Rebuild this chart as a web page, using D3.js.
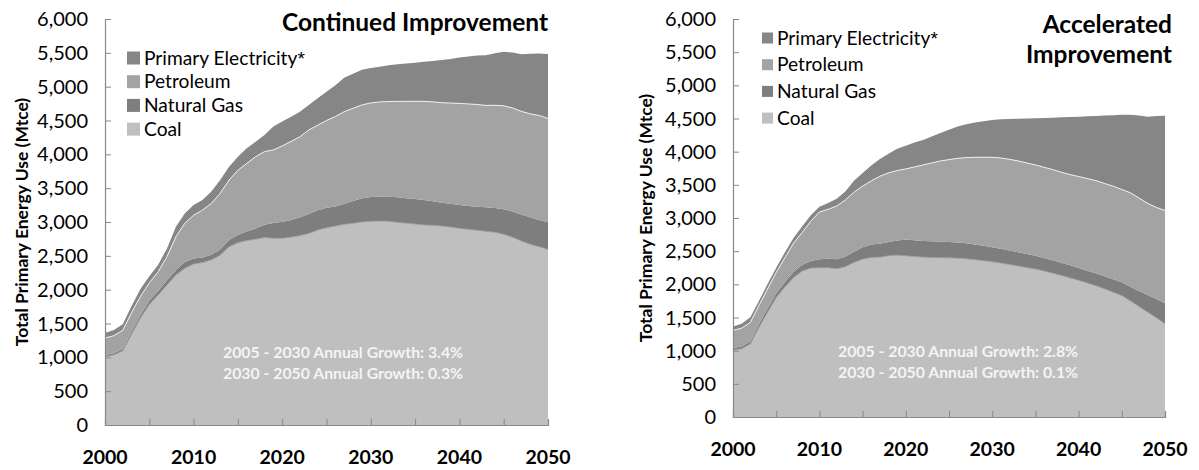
<!DOCTYPE html>
<html><head><meta charset="utf-8">
<script src="https://cdn.jsdelivr.net/npm/d3@7"></script>
<style>body{margin:0;background:#fff} svg{display:block}</style>
</head><body>
<svg id="c" width="1199" height="470"></svg>
<script>
const years = [2000,2001,2002,2003,2004,2005,2006,2007,2008,2009,2010,2011,2012,2013,2014,2015,2016,2017,2018,2019,2020,2021,2022,2023,2024,2025,2026,2027,2028,2029,2030,2031,2032,2033,2034,2035,2036,2037,2038,2039,2040,2041,2042,2043,2044,2045,2046,2047,2048,2049,2050];
const seriesNames = ["Primary Electricity*","Petroleum","Natural Gas","Coal"];
const yTicks = [0,500,1000,1500,2000,2500,3000,3500,4000,4500,5000,5500,6000];
const xTickLabels = [2000,2010,2020,2030,2040,2050];
const xMinorTicks = [2005,2010,2015,2020,2025,2030,2035,2040,2045,2050];

// Continued Improvement (Mtce)
const coalCont = [1010,1035,1095,1340,1580,1780,1920,2070,2215,2315,2380,2400,2440,2510,2635,2695,2725,2745,2770,2760,2760,2775,2800,2830,2880,2915,2940,2965,2980,3000,3010,3015,3010,2995,2982,2970,2957,2950,2941,2925,2905,2893,2878,2862,2848,2820,2775,2720,2670,2635,2595];
const gasCont = [25,25,30,40,45,55,60,70,75,95,80,75,75,85,100,115,135,160,190,225,245,255,270,290,295,295,290,305,330,350,360,360,365,370,370,370,369,355,345,345,345,344,347,357,360,370,380,390,400,395,400];
const petCont = [250,260,275,280,275,265,285,350,490,570,640,700,760,830,885,955,1005,1060,1080,1080,1120,1160,1190,1240,1255,1290,1330,1360,1370,1380,1390,1400,1405,1418,1431,1443,1457,1470,1477,1488,1502,1508,1512,1504,1517,1528,1530,1525,1528,1545,1535];
const elecCont = [75,85,90,100,110,100,105,120,150,145,150,150,175,195,195,200,225,220,245,345,360,365,370,370,400,425,460,500,510,520,515,520,535,547,560,572,585,605,631,652,678,700,723,743,770,797,820,845,887,917,953];

// Accelerated Improvement (Mtce)
const coalAcc = [1010,1030,1100,1350,1580,1800,1960,2100,2200,2245,2250,2250,2235,2265,2330,2380,2405,2410,2430,2440,2430,2420,2410,2405,2402,2400,2395,2385,2372,2357,2340,2320,2298,2275,2252,2230,2200,2168,2135,2098,2060,2020,1978,1932,1882,1830,1750,1665,1580,1495,1405];
const gasAcc = [30,32,40,50,55,60,70,85,95,105,130,135,145,150,160,180,195,202,210,220,245,245,245,243,242,240,237,233,229,224,220,216,212,208,204,200,197,194,191,188,185,186,188,191,195,200,215,235,260,285,310];
const petAcc = [265,278,285,280,295,320,370,435,485,600,710,745,800,855,900,920,960,1018,1040,1055,1065,1105,1145,1182,1216,1240,1268,1292,1314,1335,1355,1369,1375,1377,1374,1370,1368,1368,1364,1369,1380,1389,1398,1397,1403,1400,1415,1400,1380,1380,1397];
const elecAcc = [60,65,80,70,75,70,80,80,90,90,80,95,110,130,170,200,230,260,290,330,350,370,375,400,420,450,480,505,525,544,563,585,608,635,670,704,743,782,828,868,903,938,974,1025,1070,1126,1178,1245,1308,1378,1431];

const FONT = "Lato, 'Open Sans', sans-serif";
const svg = d3.select("#c");
const defs = svg.append("defs");

function pattern(id, base, dot) {
  const p = defs.append("pattern").attr("id", id).attr("patternUnits","userSpaceOnUse")
    .attr("width",2).attr("height",2);
  p.append("rect").attr("width",2).attr("height",2).attr("fill",base);
  p.append("rect").attr("width",1).attr("height",1).attr("fill",dot);
  p.append("rect").attr("x",1).attr("y",1).attr("width",1).attr("height",1).attr("fill",dot);
}
pattern("pElec", "#8c8c8c", "#808080");
pattern("pPet", "#a7a7a7", "#9f9f9f");
pattern("pGas", "#828282", "#7a7a7a");

const fills = {"Primary Electricity*":"url(#pElec)","Petroleum":"url(#pPet)","Natural Gas":"url(#pGas)","Coal":"#bfbfbf"};

function drawChart(cfg) {
  const g = svg.append("g");
  const x = d3.scaleLinear().domain([2000,2050]).range([cfg.x0, cfg.x1]);
  const y = d3.scaleLinear().domain([0,6000]).range([cfg.y0, cfg.y1]);
  const rows = years.map((yr,i) => ({year:yr, "Coal":cfg.coal[i], "Natural Gas":cfg.gas[i], "Petroleum":cfg.pet[i], "Primary Electricity*":cfg.elec[i]}));
  const stack = d3.stack().keys(["Coal","Natural Gas","Petroleum","Primary Electricity*"])(rows);
  const area = d3.area().x(d => x(d.data.year)).y0(d => y(d[0])).y1(d => y(d[1]));
  g.selectAll("path.a").data(stack).join("path").attr("class","a")
    .attr("d", area).attr("fill", d => fills[d.key]);
  const line = d3.line().x(d => x(d.data.year)).y(d => y(d[1]));
  g.append("path").attr("d", line(stack[2])).attr("fill","none").attr("stroke","#efefef").attr("stroke-width",1);
  g.append("path").attr("d", line(stack[0])).attr("fill","none").attr("stroke","#9a9a9a").attr("stroke-width",0.8);

  const yAxis = d3.axisRight(y).tickValues(yTicks).tickSize(6).tickFormat("");
  const ya = g.append("g").attr("transform",`translate(${cfg.x0},0)`).call(yAxis);
  const xAxis = d3.axisTop(x).tickValues(xMinorTicks).tickSize(6).tickFormat("");
  const xa = g.append("g").attr("transform",`translate(0,${cfg.y0})`).call(xAxis);
  [ya, xa].forEach(a => { a.select(".domain").attr("stroke","#888").attr("stroke-width",1.2);
    a.selectAll(".tick line").attr("stroke","#888"); });

  g.selectAll("text.yl").data(yTicks).join("text").attr("class","yl")
    .attr("x", cfg.x0 - 17).attr("y", d => y(d)).attr("dy","0.35em")
    .attr("text-anchor","end").attr("font-family",FONT).attr("font-size",20).attr("fill","#000")
    .text(d => d3.format(",")(d));
  g.selectAll("text.xl").data(xTickLabels).join("text").attr("class","xl")
    .attr("x", d => x(d)).attr("y", cfg.xLabelY).attr("dy","0.35em")
    .attr("text-anchor","middle").attr("font-family",FONT).attr("font-weight","bold").attr("font-size",19.5)
    .text(d => d);

  g.append("text").attr("transform",`translate(${cfg.titleX},${(cfg.y0+cfg.y1)/2}) rotate(-90)`)
    .attr("text-anchor","middle").attr("dy","0.35em").attr("font-family",FONT).attr("font-weight","bold")
    .attr("font-size",17.5).text("Total Primary Energy Use (Mtce)");

  const t = g.append("text").attr("text-anchor","end").attr("font-family",FONT).attr("font-weight","bold")
    .attr("font-size",24.5);
  cfg.title.forEach((s,i) => t.append("tspan").attr("x", cfg.titleRight).attr("y", cfg.titleY + i*30).attr("dy","0.35em").text(s));

  const lg = g.selectAll("g.lg").data(seriesNames).join("g").attr("class","lg")
    .attr("transform",(d,i) => `translate(${cfg.legX},${cfg.legY + i*cfg.legStep})`);
  lg.append("rect").attr("x",0).attr("y",-cfg.sw/2).attr("width",cfg.sw).attr("height",cfg.sw).attr("fill", d => fills[d]);
  const lt = lg.append("text").attr("x",cfg.sw+4).attr("dy","0.35em").attr("font-family",FONT).attr("font-size",19.2).attr("fill","#000");
  lt.append("tspan").text(d => d.replace("*",""));
  lt.filter(d => d.endsWith("*")).append("tspan").attr("font-family","'Liberation Sans', sans-serif").attr("fill","#000").text("*");

  cfg.notes.forEach((s,i) => g.append("text").attr("x",cfg.noteX).attr("y",cfg.noteY + i*21).attr("dy","0.35em")
    .attr("font-family",FONT).attr("font-weight","bold").attr("font-size",15.8).attr("fill","#f4f4f4").text(s));
}

drawChart({coal:coalCont, gas:gasCont, pet:petCont, elec:elecCont,
  x0:105, x1:548, y0:425, y1:19, xLabelY:457, titleX:22,
  title:["Continued Improvement"], titleRight:548, titleY:22,
  legX:127, legY:58, legStep:23.7, sw:13,
  notes:["2005 - 2030 Annual Growth: 3.4%","2030 - 2050 Annual Growth: 0.3%"], noteX:223, noteY:352});

drawChart({coal:coalAcc, gas:gasAcc, pet:petAcc, elec:elecAcc,
  x0:733, x1:1165, y0:417, y1:19, xLabelY:449, titleX:646,
  title:["Accelerated","Improvement"], titleRight:1172, titleY:24,
  legX:762, legY:38, legStep:26.7, sw:11,
  notes:["2005 - 2030 Annual Growth: 2.8%","2030 - 2050 Annual Growth: 0.1%"], noteX:838, noteY:351});
</script>
</body></html>
